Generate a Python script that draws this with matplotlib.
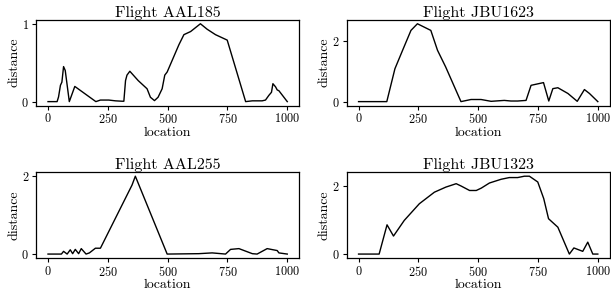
import matplotlib
matplotlib.use("Agg")
import matplotlib.pyplot as plt

# Flight AAL185
aal185_x = [0, 38, 44, 52, 58, 65, 72, 89, 112, 200, 219, 254, 282, 310, 317, 324, 330,
            342, 377, 414, 428, 445, 460, 477, 488, 498, 519, 547, 568, 596, 637, 665,
            700, 749, 826, 854, 895, 909, 923, 934, 940, 951, 958, 965, 1000]
aal185_y = [0, 0, 0.06, 0.21, 0.25, 0.45, 0.40, 0, 0.195, 0, 0.02, 0.02, 0.01, 0.005, 0.005,
            0.27, 0.34, 0.39, 0.27, 0.165, 0.056, 0.013, 0.056, 0.165, 0.34, 0.38, 0.53,
            0.73, 0.86, 0.90, 1.0, 0.93, 0.86, 0.79, 0, 0.01, 0.01, 0.02, 0.08, 0.12,
            0.23, 0.19, 0.15, 0.14, 0]

# Flight JBU1623
jbu1623_x = [0, 118, 152, 184, 219, 246, 302, 330, 364, 428, 470, 512, 554, 609, 637, 665,
             700, 721, 773, 795, 812, 833, 875, 914, 944, 965, 1000]
jbu1623_y = [0, 0, 1.09, 1.70, 2.36, 2.58, 2.36, 1.70, 1.15, 0, 0.07, 0.07, 0.01, 0.04,
             0.02, 0.02, 0.04, 0.54, 0.63, 0.02, 0.43, 0.46, 0.27, 0.01, 0.40, 0.27, 0]

# Flight AAL255
aal255_x = [0, 56, 65, 80, 93, 103, 114, 128, 139, 159, 173, 198, 219, 351, 365, 498,
            630, 686, 742, 763, 798, 854, 874, 916, 958, 965, 1000]
aal255_y = [0, 0, 0.07, 0, 0.11, 0.01, 0.12, 0.01, 0.14, 0, 0.03, 0.15, 0.15, 1.77, 2.0,
            0, 0.01, 0.03, 0, 0.12, 0.14, 0.01, 0, 0.14, 0.09, 0.03, 0]

# Flight JBU1323
jbu1323_x = [0, 86, 119, 146, 191, 254, 317, 365, 408, 429, 464, 492, 513, 547, 596, 630,
             665, 693, 714, 749, 774, 794, 833, 881, 900, 937, 958, 979, 1000]
jbu1323_y = [0, 0, 0.86, 0.53, 0.99, 1.48, 1.82, 1.97, 2.07, 2.0, 1.87, 1.87, 1.94, 2.09,
             2.20, 2.25, 2.25, 2.29, 2.29, 2.12, 1.63, 1.04, 0.79, 0, 0.18, 0.08, 0.35, 0, 0]

flights = [
    ("Flight AAL185", aal185_x, aal185_y, [0, 1]),
    ("Flight JBU1623", jbu1623_x, jbu1623_y, [0, 2]),
    ("Flight AAL255", aal255_x, aal255_y, [0, 2]),
    ("Flight JBU1323", jbu1323_x, jbu1323_y, [0, 2]),
]
xticks = [0, 250, 500, 750, 1000]

plt.rcParams["font.family"] = "cmr10"
plt.rcParams["mathtext.fontset"] = "cm"
plt.rcParams["axes.formatter.use_mathtext"] = True

fig, axes = plt.subplots(2, 2, figsize=(6.11, 3.01), dpi=100)
for ax, (title, xs, ys, yt) in zip(axes.flat, flights):
    ax.plot(xs, ys, color="black", lw=1.0)
    ax.set_title(title, fontsize=11.5, pad=1.5)
    ax.set_xlabel("location", fontsize=10, labelpad=0)
    ax.set_ylabel("distance", fontsize=10, labelpad=1)
    ax.set_xticks(xticks)
    ax.set_yticks(yt)
    ax.tick_params(labelsize=8.8, length=3, width=0.8, pad=2)
    for s in ax.spines.values():
        s.set_linewidth(0.9)

fig.subplots_adjust(left=0.059, right=0.998, top=0.934, bottom=0.143, wspace=0.18, hspace=0.78)
fig.savefig("out.png", dpi=100)
